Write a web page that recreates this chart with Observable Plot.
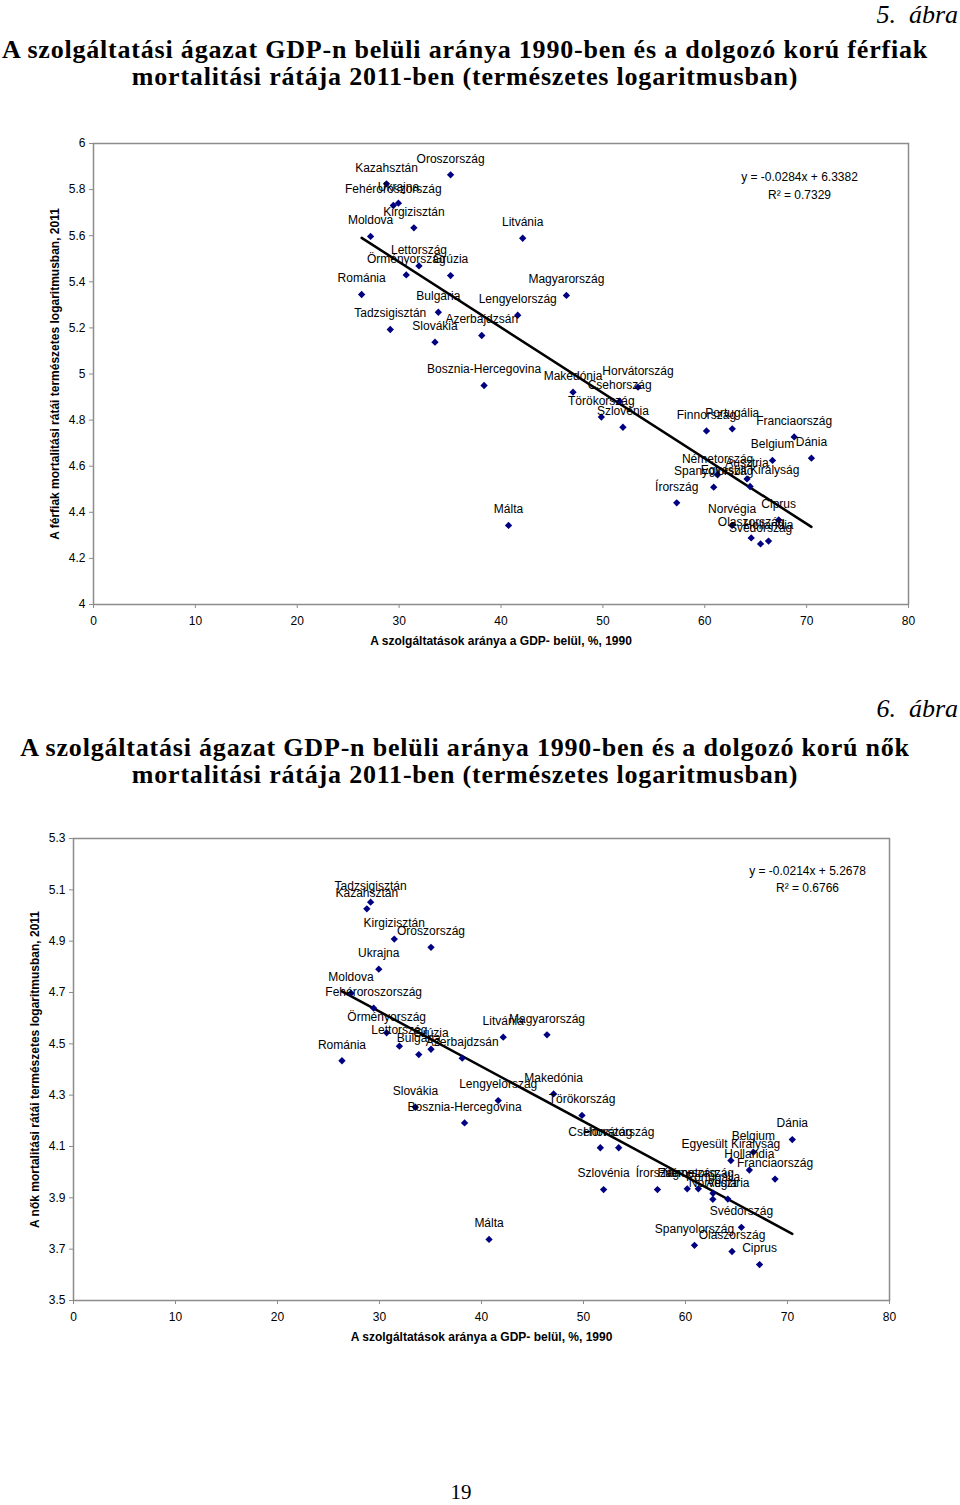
<!DOCTYPE html>
<html>
<head>
<meta charset="utf-8">
<script src="https://cdn.jsdelivr.net/npm/d3@7"></script>
<script src="https://cdn.jsdelivr.net/npm/@observablehq/plot@0.6"></script>
<style>
  body { margin: 0; background: #fff; }
  #page { position: relative; width: 960px; height: 1505px; overflow: hidden; background: #fff; }
  .abra { position: absolute; right: 2px; font-family: "Liberation Serif", serif; font-style: italic; font-size: 26px; line-height: 26px; white-space: pre; color: #000; }
  .title { position: absolute; left: 0; width: 930px; text-align: center; font-family: "Liberation Serif", serif; font-weight: bold; font-size: 26px; letter-spacing: 0.8px; line-height: 27px; color: #000; }
  .chart { position: absolute; left: 0; }
  .pagenum { position: absolute; left: 441px; width: 40px; text-align: center; font-family: "Liberation Serif", serif; font-size: 21px; line-height: 21px; }
</style>
</head>
<body>
<div id="page">
  <div class="abra" style="top:2px">5.  ábra</div>
  <div class="title" style="top:36px">A szolgáltatási ágazat GDP-n belüli aránya 1990-ben és a dolgozó korú férfiak<br>mortalitási rátája 2011-ben (természetes logaritmusban)</div>
  <div class="chart" id="chart1" style="top:110px"></div>
  <div class="abra" style="top:696px">6.  ábra</div>
  <div class="title" style="top:734px">A szolgáltatási ágazat GDP-n belüli aránya 1990-ben és a dolgozó korú nők<br>mortalitási rátája 2011-ben (természetes logaritmusban)</div>
  <div class="chart" id="chart2" style="top:800px"></div>
  <div class="pagenum" style="top:1482px">19</div>
</div>
<script>
// ---------- Data: figure 5 (men) ----------
const countries1 = ["Oroszország","Kazahsztán","Ukrajna","Fehéroroszország","Kirgizisztán","Moldova","Litvánia","Lettország","Örményország","Grúzia","Románia","Magyarország","Bulgária","Lengyelország","Tadzsigisztán","Azerbajdzsán","Slovákia","Bosznia-Hercegovina","Makedónia","Horvátország","Csehország","Törökország","Szlovénia","Málta","Írország","Finnország","Portugália","Franciaország","Dánia","Belgium","Németország","Ausztria","Spanyolország","Egyesült Királyság","Ciprus","Norvégia","Olaszország","Hollandia","Svédország"];
const services1 = [35.05,28.76,29.93,29.43,31.45,27.2,42.13,31.95,30.7,35.05,26.32,46.42,33.85,41.64,29.13,38.11,33.52,38.34,47.07,53.45,51.65,49.85,51.97,40.74,57.25,60.17,62.7,68.78,70.47,66.65,61.26,64.15,60.88,64.45,67.26,62.68,64.56,66.26,65.48];
const maleMortality = [5.864,5.825,5.741,5.731,5.634,5.597,5.589,5.469,5.430,5.427,5.345,5.341,5.268,5.255,5.193,5.167,5.138,4.950,4.921,4.943,4.882,4.813,4.769,4.343,4.441,4.753,4.762,4.727,4.635,4.625,4.563,4.545,4.509,4.512,4.367,4.343,4.289,4.275,4.263];

// ---------- Data: figure 6 (women) ----------
const countries2 = ["Tadzsigisztán","Kazahsztán","Kirgizisztán","Oroszország","Ukrajna","Moldova","Fehéroroszország","Örményország","Lettország","Grúzia","Bulgária","Azerbajdzsán","Románia","Litvánia","Magyarország","Makedónia","Lengyelország","Slovákia","Bosznia-Hercegovina","Törökország","Csehország","Horvátország","Szlovénia","Írország","Málta","Dánia","Belgium","Egyesült Királyság","Hollandia","Franciaország","Finnország","Németország","Portugália","Norvégia","Ausztria","Svédország","Spanyolország","Olaszország","Ciprus"];
const services2 = [29.13,28.76,31.45,35.05,29.93,27.2,29.43,30.7,31.95,35.05,33.85,38.11,26.32,42.13,46.42,47.07,41.64,33.52,38.34,49.85,51.65,53.45,51.97,57.25,40.74,70.47,66.65,64.45,66.26,68.78,60.17,61.26,62.7,62.68,64.15,65.48,60.88,64.56,67.26];
const femaleMortality = [5.052,5.026,4.908,4.876,4.791,4.697,4.639,4.543,4.491,4.479,4.458,4.444,4.434,4.526,4.535,4.305,4.279,4.253,4.192,4.221,4.095,4.095,3.932,3.932,3.738,4.127,4.078,4.045,4.008,3.973,3.935,3.935,3.918,3.894,3.895,3.785,3.715,3.691,3.640];

// ---------- Trend lines & labels ----------
const trendSlopes = [-0.0284, -0.0214];
const trendIntercepts = [6.3382, 5.2678];
const equationLines1 = ["y = -0.0284x + 6.3382", "R² = 0.7329"];
const equationLines2 = ["y = -0.0214x + 5.2678", "R² = 0.6766"];
const xTicks = [0, 10, 20, 30, 40, 50, 60, 70, 80];
const yTicks1 = [4, 4.2, 4.4, 4.6, 4.8, 5, 5.2, 5.4, 5.6, 5.8, 6];
const yTicks2 = [3.5, 3.7, 3.9, 4.1, 4.3, 4.5, 4.7, 4.9, 5.1, 5.3];
const xTitle = "A szolgáltatások aránya a GDP- belül, %, 1990";
const yTitle1 = "A férfiak mortalitási rátái természetes logaritmusban, 2011";
const yTitle2 = "A nők mortalitási rátái természetes logaritmusban, 2011";

function scatter(o) {
  const data = o.names.map((n, i) => ({ name: n, x: o.xs[i], y: o.ys[i] }));
  const [x0, x1] = d3.extent(o.xs);
  const trend = [x0, x1].map(x => ({ x, y: o.intercept + o.slope * x }));
  return Plot.plot({
    width: 960,
    height: o.height,
    marginTop: o.mt, marginBottom: o.mb, marginLeft: o.ml, marginRight: o.mr,
    style: { fontFamily: '"Liberation Sans", Arial, sans-serif', fontSize: "12px", color: "#000", background: "transparent" },
    x: { domain: [0, 80] },
    y: { domain: o.yDomain },
    marks: [
      Plot.frame({ stroke: "#8c8c8c", strokeWidth: 1.5 }),
      Plot.axisX({ ticks: xTicks, tickSize: 4, tickPadding: 8, stroke: "#8c8c8c", label: null, fontSize: 12 }),
      Plot.axisY({ ticks: o.yTicks, tickSize: 4, tickPadding: 4, stroke: "#8c8c8c", label: null, fontSize: 12, tickFormat: d => String(+d.toFixed(1)) }),
      Plot.line(trend, { x: "x", y: "y", stroke: "#000", strokeWidth: 2.5 }),
      Plot.dot(data, { x: "x", y: "y", symbol: "diamond2", r: 3.3, fill: "#000080", stroke: null }),
      Plot.text(data, { x: "x", y: "y", text: "name", dy: -16, fill: "#000", fontSize: 12 }),
      Plot.text([o.eq[0]], { frameAnchor: "top-right", dx: o.eqDx, dy: o.eqDy[0], textAnchor: "middle", fontSize: 12 }),
      Plot.text([o.eq[1]], { frameAnchor: "top-right", dx: o.eqDx, dy: o.eqDy[1], textAnchor: "middle", fontSize: 12 }),
      Plot.text([xTitle], { frameAnchor: "bottom", dy: 40, textAnchor: "middle", fontWeight: "bold", fontSize: 12 }),
      Plot.text([o.yTitle], { frameAnchor: "left", rotate: -90, dx: -38, textAnchor: "middle", fontWeight: "bold", fontSize: 12 })
    ]
  });
}

document.getElementById("chart1").appendChild(scatter({
  names: countries1, xs: services1, ys: maleMortality,
  yDomain: [4, 6], yTicks: yTicks1, yTitle: yTitle1,
  slope: trendSlopes[0], intercept: trendIntercepts[0], eq: equationLines1,
  height: 550, mt: 33, mb: 56, ml: 93, mr: 52, eqDx: -109, eqDy: [29, 47]
}));

document.getElementById("chart2").appendChild(scatter({
  names: countries2, xs: services2, ys: femaleMortality,
  yDomain: [3.5, 5.3], yTicks: yTicks2, yTitle: yTitle2,
  slope: trendSlopes[1], intercept: trendIntercepts[1], eq: equationLines2,
  height: 560, mt: 38, mb: 60, ml: 73, mr: 71, eqDx: -82, eqDy: [28, 45]
}));
</script>
</body>
</html>
